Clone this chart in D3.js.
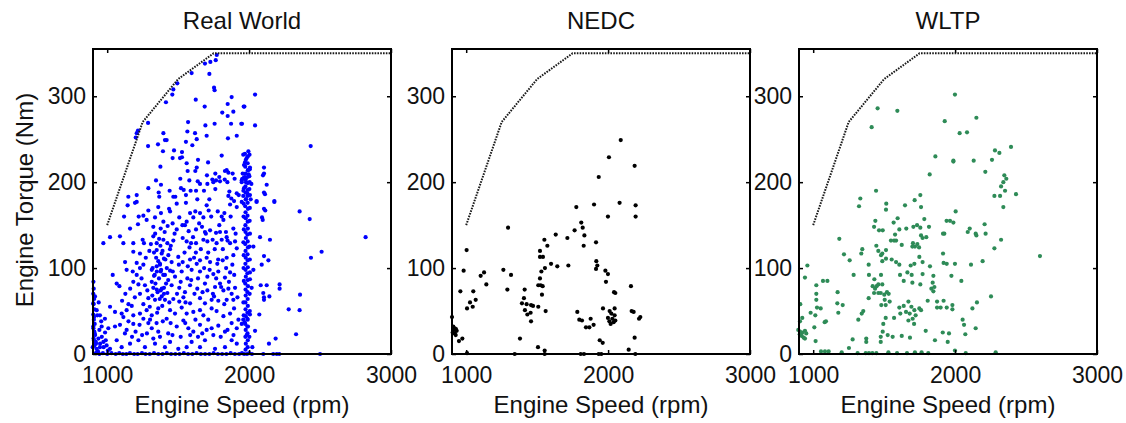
<!DOCTYPE html>
<html>
<head>
<meta charset="utf-8">
<script src="https://cdn.jsdelivr.net/npm/d3@7"></script>
<style>
  body { margin: 0; background: #fff; }
  text { font-family: "Liberation Sans", Arial, sans-serif; fill: #111; }
</style>
</head>
<body>
<div id="chart"></div>
<script>
// full load curve (dotted)
const fullLoadRpm = [1000, 1250, 1500, 1750, 3000];
const fullLoadTorque = [150, 270, 320, 350, 350];

const xTicks = [1000, 2000, 3000];
const yTicks = [0, 100, 200, 300];

// [engine speed rpm, engine torque Nm]
const realWorld = [
  [1772,348],[1765,342],[1689,338],[1727,340],[1720,326],[1595,327],[1494,315],[1466,308],[1753,310],[1757,307],
  [1459,302],[1624,296],[1414,293],[1877,299],[1687,288],[1849,291],[1967,288],[1811,281],[1889,282],[1849,277],
  [1288,269],[1570,270],[1692,266],[1757,268],[1873,268],[1950,268],[1217,260],[1208,257],[1201,252],[1396,257],
  [1565,259],[1619,257],[1631,250],[1701,254],[1407,249],[1419,249],[1555,247],[1600,243],[1913,254],[1851,251],
  [1288,242],[1358,244],[1393,236],[1471,237],[1527,235],[1461,228],[1513,228],[1527,229],[1640,226],[1711,223],
  [1807,231],[1560,222],[1375,218],[1631,217],[1621,213],[1567,213],[1703,208],[1762,210],[1830,213],[1842,214],
  [1854,211],[1884,210],[1790,206],[1515,204],[1579,202],[1344,202],[1379,197],[1706,198],[1741,203],[1748,200],
  [1767,202],[1795,201],[1828,203],[1847,200],[1898,204],[1952,204],[1948,200],[1638,201],[1654,198],[1290,193],
  [1440,190],[1520,193],[1539,191],[1588,190],[1626,190],[1682,190],[1762,192],[1861,189],[1913,187],[1927,185],
  [1149,183],[1208,185],[1363,188],[1367,183],[1466,183],[1480,183],[1555,185],[1635,180],[1720,180],[1854,184],
  [1875,181],[1894,178],
  [2042,302],[1962,288],[1945,268],[2042,266],[2434,242],[1995,236],[1959,232],[1971,233],[1983,228],[1971,223],
  [1964,220],[2006,217],[1992,214],[1955,210],[1997,209],[1969,206],[2002,207],[2105,217],[2098,208],[2105,210],
  [1948,202],[1978,200],[2016,198],[2124,197],[1964,193],[2002,192],[1988,187],[2105,188],[2112,186],[1959,184],
  [1978,180],[2011,180],[2053,178],[2178,178],[1948,177],
  [1144,173],[1196,176],[1208,177],[1290,167],[1360,171],[1436,169],[1443,166],[1379,164],[1490,175],[1555,176],
  [1584,164],[1621,166],[1701,173],[1715,167],[1779,166],[1826,164],[1866,174],[1913,171],[1119,160],[1222,160],
  [1255,161],[1337,159],[1396,154],[1461,152],[1508,159],[1560,154],[1607,159],[1654,164],[1678,159],[1807,160],
  [1819,156],[1161,146],[1217,151],[1278,156],[1325,148],[1377,146],[1426,149],[1490,145],[1548,150],[1574,143],
  [1626,145],[1668,148],[1689,142],[1725,144],[1767,141],[1795,142],[1837,142],[1889,146],[973,129],[1020,136],
  [1090,137],[1114,129],[1184,129],[1250,133],[1259,129],[1325,137],[1349,129],[1396,133],[1424,129],[1466,132],
  [1532,135],[1560,131],[1591,129],[1626,129],[1678,133],[1706,131],[1743,133],[1771,129],[1807,133],[1842,136],
  [1866,129],[1901,131],[1913,123],[1184,119],[1231,117],[1297,120],[1349,121],[1384,117],[1443,122],[1400,111],
  [1372,105],[1349,102],[1431,115],[1454,107],[1501,113],[1532,107],[1584,110],[1612,112],[1631,105],[1654,109],
  [1701,112],[1725,107],[1776,105],[1814,109],[1842,112],[1889,115],[1126,107],[1208,106],[1255,104],[1137,98],
  [1039,92],[1180,96],[1231,100],[1314,98],[1330,91],[1377,96],[1407,92],[1443,97],[1478,90],[1525,96],
  [1565,88],[1595,98],[1654,96],[1706,90],[1748,93],[1783,96],[1830,89],[1866,95],[1067,82],[1086,79],
  [1184,84],[1220,81],[1266,80],[1314,84],[1325,77],[1349,75],[1377,74],[1400,77],[1424,71],[1384,67],
  [1454,80],[1508,77],[1548,72],[1584,80],[1635,76],[1689,82],[1706,74],[1760,78],[1795,82],[1819,74],
  [1854,76],[1877,70],[1901,77],[1231,70],[1290,65],[1337,63],[1407,63],[1466,64],[1508,61],[1537,66],
  [1584,59],[1654,65],[1689,59],[1736,63],[1753,67],[1783,62],[1842,63],[1889,63],[1020,55],[1055,49],
  [1102,47],[1137,51],[1173,56],[1114,43],[1184,45],[1231,47],[1278,51],[1314,45],[1360,53],[1443,51],
  [1478,47],[1525,54],[1560,47],[1607,49],[1654,51],[1678,45],[1736,53],[1771,50],[1819,44],[1866,47],
  [1894,53],[914,67],[926,51],[949,45],[984,41],[961,32],[1008,30],[1055,32],[1090,34],[1137,28],
  [1184,35],[1255,41],[1290,36],[1314,30],[1360,26],[1372,20],[1419,41],[1447,36],[1490,32],[1537,39],
  [1572,30],[1607,26],[1654,34],[1701,28],[1736,30],[1783,33],[1830,26],[1877,36],[1913,30],[902,59],
  [907,43],[902,32],[912,24],[907,16],[921,12],[898,8],[938,18],[949,8],[973,14],[996,10],
  [1020,6],[931,3],[1067,16],[1102,8],[1161,12],[1220,16],[1266,8],[1337,12],[1407,8],[1443,14],
  [1501,6],[1560,8],[1595,14],[1654,8],[1689,16],[1760,6],[1830,8],[1877,16],[1913,12],
  [1330,118],[1345,112],[1360,108],[1372,104],[1380,98],[1395,92],[1350,96],[1365,88],[1340,82],[1385,76],
  [1400,70],[1355,72],[1370,64],[1410,110],[1420,100],[1320,100],[1430,86],[1390,120],[1375,126],[1335,92],
  [903,84],[905,76],[902,70],[908,64],[904,58],[910,52],[902,46],[906,40],[912,35],[903,30],
  [909,26],[915,22],[904,18],[920,14],[910,10],[925,6],[935,3],[950,12],[962,20],[945,28],
  [975,8],[990,16],[1005,4],[930,45],[958,38],[940,60],[985,25],
  // extra points in the dense middle of the cloud
  [1105,62],[1128,70],[1150,58],[1162,76],[1195,66],[1208,92],[1242,88],[1255,58],[1272,112],[1283,74],
  [1300,55],[1308,128],[1318,68],[1338,140],[1352,48],[1366,134],[1388,56],[1405,142],[1415,82],[1438,60],
  [1448,126],[1462,96],[1475,140],[1492,70],[1505,104],[1518,84],[1530,150],[1545,118],[1552,60],[1568,102],
  [1580,124],[1592,86],[1605,136],[1615,70],[1625,118],[1640,88],[1648,152],[1660,122],[1672,72],[1683,100],
  [1695,140],[1712,118],[1722,98],[1733,160],[1745,70],[1758,122],[1768,88],[1782,110],[1790,150],[1803,78],
  [1815,122],[1825,58],[1838,100],[1848,132],[1858,84],[1870,160],[1882,104],[1895,92],[1905,140],[1918,66],
  [1125,24],[1150,38],[1175,20],[1200,26],[1228,34],[1246,22],[1280,24],[1302,40],[1325,18],[1348,36],
  [1392,38],[1430,24],[1460,22],[1518,20],[1550,36],[1585,22],[1622,40],[1640,20],[1670,24],[1712,40],
  [1748,22],[1800,20],[1848,28],[1890,22],[1925,40],
  [2105,169],[2114,167],[2178,177],[2356,166],[2427,157],[2821,136],[2091,159],[2096,156],[2077,136],[2147,133],
  [2053,177],[2030,125],[2105,114],[2136,109],[2511,119],[2436,112],[2089,104],[2030,98],[2006,87],[2018,77],
  [2082,80],[2124,80],[2215,81],[2215,76],[2100,71],[2105,66],[2105,63],[2143,67],[2359,69],[2279,52],
  [2356,51],[2072,46],[2006,46],[1988,41],[1959,40],[1969,37],[1988,32],[1948,35],[2042,27],[1983,22],
  [2002,20],[2187,18],[2331,23],[2140,12],[2023,8],
  // the dense column at 2000 rpm
  [1975,5],[1977,12],[1974,20],[1976,28],[1973,35],[1977,44],[1975,52],[1974,60],[1976,68],[1975,75],
  [1973,82],[1977,90],[1975,98],[1974,105],[1976,112],[1975,120],[1973,128],[1977,135],[1975,142],[1974,150],
  [1976,158],[1975,165],[1973,172],[1977,180],[1975,188],[1974,195],[1976,203],[1975,210],[1973,218],[1977,226],
  [1990,8],[1991,16],[1989,24],[1992,32],[1990,40],[1988,48],[1991,56],[1990,64],[1989,72],[1992,79],
  [1990,86],[1988,94],[1991,101],[1990,109],[1989,116],[1992,124],[1990,131],[1988,139],[1991,146],[1990,154],
  [1989,161],[1992,169],[1990,176],[1988,184],[1991,191],[1990,199],[1989,206],[1992,214],[1990,222],[1991,230],
  [1962,45],[1960,60],[1963,85],[1961,100],[1962,115],[1960,130],[1963,145],[1961,160],[1962,175],[1960,190],
  [1963,205],[2005,50],[2004,70],[2006,95],[2005,110],[2003,125],[2006,140],[2004,155],[2005,170],[2006,185],
  [2004,200],[2005,215],[2003,232],
  // bottom row
  [920,1],[945,0],[970,1],[1000,0],[1030,1],[1060,0],[1085,1],[1110,0],[1135,0],[1160,1],
  [1190,0],[1215,0],[1245,1],[1270,0],[1300,0],[1330,1],[1360,0],[1390,0],[1420,1],[1450,0],
  [1480,0],[1510,0],[1540,1],[1570,0],[1600,0],[1630,1],[1660,0],[1690,0],[1720,0],[1750,1],
  [1780,0],[1810,0],[1840,0],[1870,1],[1900,0],[1930,0],[1950,1],[1965,0],[1985,0],[2000,1],
  [2020,0],[2100,0],[2170,0],[2195,0],[2213,0],[2500,0]
];

const nedc = [
  [2089,249],[2006,229],[2187,219],[1934,206],[1776,171],[1901,174],[2081,176],[2194,173],[1999,160],[2194,160],
  [1295,147],[1811,153],[1821,147],[1764,144],[1833,138],[1828,126],[1713,135],[1631,139],[1551,133],[1572,126],
  [1520,120],[1915,130],[1520,113],[1541,113],[1598,105],[1642,102],[1720,103],[1555,100],[1530,96],[1520,88],
  [1917,108],[1924,103],[1915,99],[1981,97],[1999,93],[1985,84],[2161,79],[1003,121],[982,97],[1262,98],
  [1316,92],[1126,95],[1102,91],[1142,81],[959,73],[1050,73],[1067,63],[1027,60],[1046,55],[1006,53],
  [1290,75],[1508,80],[1525,80],[1539,79],[1534,69],[1412,75],[1407,65],[1393,59],[1426,58],[1457,57],
  [1414,51],[1431,46],[1454,48],[1471,56],[1457,38],[1508,55],[1560,50],[1379,18],[1506,8],[1553,4],
  [1553,0],[1342,0],[2042,72],[2051,71],[1964,53],[1783,49],[1797,40],[1816,39],[1877,41],[1898,34],
  [1844,31],[1868,31],[1941,16],[1962,13],[2011,50],[2023,47],[2046,53],[2046,45],[1999,42],[2030,41],
  [2009,38],[2039,37],[2051,39],[2018,35],[2166,50],[2180,49],[2227,43],[2218,41],[2187,19],[2145,5],
  [2192,0],[1807,0],[1830,0],[1934,0],[1952,0],[1006,1],[900,43],[909,32],[919,30],[928,29],
  [905,25],[919,24],[933,27],[912,28],[926,22],[973,18],[949,15]
];

const wltp = [
  [1454,286],[1593,283],[1412,264],[1927,271],[1861,230],[1821,209],[1443,190],[1332,181],[1323,172],[1515,175],
  [1513,168],[1715,179],[1755,185],[1647,173],[1760,171],[1438,155],[1429,148],[1464,144],[1490,144],[1567,153],
  [1595,158],[1607,145],[1656,146],[1706,148],[1732,150],[1755,147],[1783,157],[1816,148],[1577,139],[1584,132],
  [1548,132],[1570,132],[1624,127],[1703,129],[1717,125],[1746,124],[1760,138],[1771,135],[1797,136],[1699,125],
  [1734,128],[1445,126],[1459,120],[1487,117],[1478,115],[1513,121],[1513,111],[1487,108],[1553,110],[1584,107],
  [1607,104],[1748,113],[1771,107],[1713,105],[1687,103],[1823,102],[1771,93],[1664,95],[1694,92],[1612,92],
  [1638,85],[1699,83],[1755,81],[1847,91],[1842,83],[1854,78],[1833,76],[1847,73],[1873,61],[1807,62],
  [1478,92],[1393,92],[1391,104],[1346,122],[1339,117],[1257,109],[1217,116],[1184,134],[1285,92],[1431,87],
  [1419,79],[1436,76],[1447,79],[1459,81],[1429,71],[1459,71],[1487,81],[1476,71],[1501,69],[1520,72],
  [1532,70],[1539,61],[1504,63],[1480,57],[1511,57],[1391,65],[1607,54],[1638,56],[1671,61],[1692,55],
  [1654,49],[1680,47],[1713,51],[1748,53],[1760,51],[1701,41],[1671,39],[1711,35],[1722,45],[1793,27],
  [1614,47],[1570,42],[1511,42],[1494,35],[1490,26],[1525,22],[1560,20],[1624,21],[1682,19],[1476,20],
  [1476,14],[1374,18],[1374,14],[1353,50],[1342,47],[1318,40],[1172,72],[1170,59],[1208,57],[1177,48],
  [1081,37],[1090,38],[1022,80],[1069,85],[1100,85],[1022,70],[1022,63],[1027,54],[1053,53],[1015,45],
  [982,48],[1008,31],[959,103],[942,89],[909,58],[923,42],[907,38],[895,28],[907,26],[923,25],
  [942,27],[951,24],[919,21],[933,19],[905,23],[942,18],[1017,15],[1278,17],[1252,7],[1083,3],
  [1055,3],[1109,3],[1201,2],[1313,1],[1370,1],[1393,1],[1417,1],[1445,1],[1530,2],[1591,1],
  [1661,1],[1717,2],[1764,2],[1811,1],[1858,16],[1913,25],[1915,117],[1919,106],[1924,140],[1915,140],
  [1940,155],[1873,54],[1898,54],[1919,62],
  [1999,302],[2150,275],[2032,257],[2084,258],[2394,241],[2281,237],[2312,234],[1988,225],[1988,224],[2131,225],
  [2260,226],[2213,212],[2347,208],[2361,204],[2340,200],[2324,195],[2317,184],[2352,190],[2277,184],[2429,186],
  [2340,171],[2004,166],[1964,155],[1988,153],[2103,146],[2089,142],[2145,140],[2150,138],[2208,151],[2215,140],
  [2324,133],[2277,123],[2194,108],[2598,114],[1999,105],[1941,105],[2112,104],[1974,91],[2044,85],[2253,67],
  [1981,57],[1981,52],[1941,54],[2154,60],[2122,53],[2053,40],[2063,34],[2145,30],[2072,23],[1957,24],
  [1948,14],[1999,4],[2075,1],[2286,2]
];

const panels = [
  { title: "Real World", data: realWorld, color: "#0000ff", left: 93, yTitle: true },
  { title: "NEDC", data: nedc, color: "#000000", left: 452, yTitle: false },
  { title: "WLTP", data: wltp, color: "#2e8b57", left: 799, yTitle: false }
];

const width = 1126, height = 423;
const plotTop = 49, plotW = 298, plotH = 305;
const tickFont = 23, labelFont = 24;

const svg = d3.select("#chart").append("svg")
  .attr("width", width)
  .attr("height", height)
  .style("display", "block");

const drawPanel = (p) => {
  const g = svg.append("g").attr("transform", `translate(${p.left},${plotTop})`);
  const x = d3.scaleLinear().domain([900, 3000]).range([0, plotW]);
  const y = d3.scaleLinear().domain([0, 355]).range([plotH, 0]);

  // scatter
  g.append("g").selectAll("circle")
    .data(p.data)
    .join("circle")
    .attr("cx", d => x(d[0]))
    .attr("cy", d => y(d[1]))
    .attr("r", 2.1)
    .attr("fill", p.color);

  // full load line
  const line = d3.line().x(d => x(d[0])).y(d => y(d[1]));
  g.append("path")
    .datum(fullLoadRpm.map((r, i) => [r, fullLoadTorque[i]]))
    .attr("d", line)
    .attr("fill", "none")
    .attr("stroke", "#1a1a1a")
    .attr("stroke-width", 2)
    .attr("stroke-dasharray", "1.6,1.2");

  // axes, ticks pointing inwards like matlab
  const fmt = d3.format("d");
  const bottom = g.append("g").attr("transform", `translate(0,${plotH})`)
    .call(d3.axisBottom(x).tickValues(xTicks).tickSize(-4).tickPadding(12.7).tickFormat(fmt));
  const left = g.append("g")
    .call(d3.axisLeft(y).tickValues(yTicks).tickSize(-4).tickPadding(7).tickFormat(fmt));
  const topAx = g.append("g")
    .call(d3.axisTop(x).tickValues(xTicks).tickSize(-4).tickFormat(""));
  const right = g.append("g").attr("transform", `translate(${plotW},0)`)
    .call(d3.axisRight(y).tickValues(yTicks).tickSize(-4).tickFormat(""));

  [bottom, left, topAx, right].forEach(a => {
    a.select(".domain").remove();
    a.selectAll(".tick line").attr("stroke", "#000").attr("stroke-width", 1.5);
    a.selectAll("text").attr("font-size", tickFont).attr("font-family", "Liberation Sans, Arial, sans-serif").attr("fill", "#111");
  });

  // frame
  g.append("rect")
    .attr("width", plotW).attr("height", plotH)
    .attr("fill", "none").attr("stroke", "#000").attr("stroke-width", 2);

  // title
  g.append("text")
    .attr("x", plotW / 2).attr("y", 29 - plotTop)
    .attr("text-anchor", "middle")
    .attr("font-size", labelFont)
    .text(p.title);

  // x label
  g.append("text")
    .attr("x", plotW / 2).attr("y", 413 - plotTop)
    .attr("text-anchor", "middle")
    .attr("font-size", labelFont)
    .text("Engine Speed (rpm)");

  if (p.yTitle) {
    g.append("text")
      .attr("transform", `translate(${33 - p.left},${200 - plotTop}) rotate(-90)`)
      .attr("text-anchor", "middle")
      .attr("font-size", labelFont)
      .text("Engine Torque (Nm)");
  }
};

panels.forEach(drawPanel);
</script>
</body>
</html>
